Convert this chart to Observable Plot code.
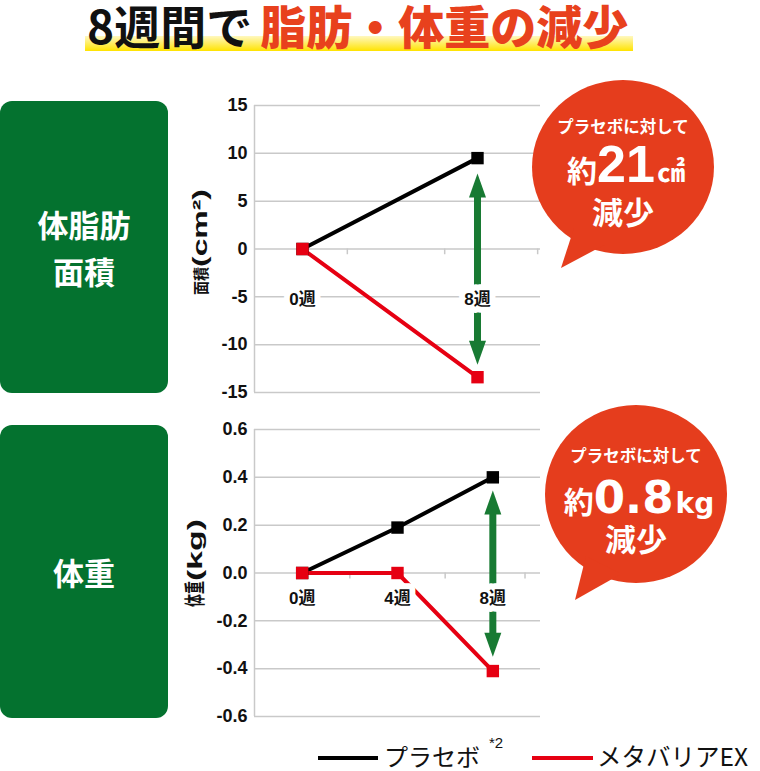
<!DOCTYPE html>
<html>
<head>
<meta charset="utf-8">
<script src="https://cdn.jsdelivr.net/npm/d3@7"></script>
<script src="https://cdn.jsdelivr.net/npm/@observablehq/plot@0.6"></script>
<style>
  html, body { margin: 0; padding: 0; background: #fff; }
  #wrap { position: relative; width: 760px; height: 771px; overflow: hidden; background: #fff; }
  .chart { position: absolute; }
  #overlay { position: absolute; left: 0; top: 0; }
</style>
</head>
<body>
<div id="wrap"></div>
<script>
// ---- data ----
const weeksTop = [0, 8];
const weekLabelsTop = ["0週", "8週"];
const placeboTop = [0, 9.5];
const exTop = [0, -13.4];
const yTicksTop = [15, 10, 5, 0, -5, -10, -15];
const arrowTop = [-12.1, 7.9];          // [EX end, placebo end]
const boundsTop = [2.05, 6.5, 10.75];

const weeksBottom = [0, 4, 8];
const weekLabelsBottom = ["0週", "4週", "8週"];
const placeboBottom = [0, 0.19, 0.40];
const exBottom = [0, 0, -0.41];
const yTicksBottom = [0.6, 0.4, 0.2, 0, -0.2, -0.4, -0.6];
const arrowBottom = [-0.35, 0.345];
const boundsBottom = [2, 6, 9.35];

const panelLabels = [["体脂肪", "面積"], ["体重"]];
const axisTitles = [["面積", "(cm²)"], ["体重", "(kg)"]];
const titleBlack = "8週間で";
const titleRed = "脂肪・体重の減少";
const bubbleLead = "プラセボに対して";
const bubblePrefix = "約";
const bubbleValues = ["21", "0.8"];
const bubbleUnits = ["㎠", "kg"];
const bubbleTail = "減少";
const seriesNames = ["プラセボ", "メタバリアEX"];
const seriesNote = "*2";

// ---- styles ----
const FONT = "'Liberation Sans', 'Noto Sans CJK JP', sans-serif";
const JP = "'Noto Sans CJK JP', sans-serif";
const RED = "#e60012";
const BLACK = "#000";
const GREEN = "#187a33";
const BOX = "#04722f";
const BUBBLE = "#e53d1d";
const GRID = "#c9c9c9";

const headUp = {draw(ctx) { ctx.moveTo(0, 0); ctx.lineTo(8.5, 24); ctx.lineTo(-8.5, 24); ctx.closePath(); }};

function chart({weeks, labels, placebo, ex, yTicks, fmt, arrow, bounds, xDomain, yDomain, labelY, yLabel, tickLen, labelDx, labelDy, labelFmt}) {
  const rows = weeks.map((w, i) => ({week: w, label: labels[i], placebo: placebo[i], ex: ex[i]}));
  const svgEl = Plot.plot({
    width: 380, height: 307,
    marginLeft: 84, marginRight: 10, marginTop: 10, marginBottom: 10,
    x: {domain: xDomain, axis: null},
    y: {domain: yDomain, axis: null},
    style: {fontFamily: FONT, background: "transparent", overflow: "visible"},
    marks: [
      Plot.ruleY(yTicks, {stroke: GRID, strokeWidth: 1.5}),
      Plot.ruleX([xDomain[0]], {stroke: GRID, strokeWidth: 1.5}),
      Plot.ruleX(bounds, {y1: 0, y2: tickLen, stroke: GRID, strokeWidth: 1.5}),
      Plot.axisY({ticks: yTicks, tickSize: 0, tickPadding: 7, tickFormat: fmt, fontSize: 18, fontWeight: "bold", fill: "#111", label: null}),
      Plot.text([yLabel.join("")], {frameAnchor: "left", textAnchor: "middle", rotate: -90, dx: labelDx, dy: labelDy, fontSize: 18, fontWeight: "bold", fill: "#111", className: "ylab"}),
      Plot.ruleX([arrow], {x: 8, y1: d => d[1], y2: d => d[0], stroke: GREEN, strokeWidth: 7, insetTop: 20, insetBottom: 20}),
      Plot.dot([arrow], {x: 8, y: d => d[1], symbol: headUp, fill: GREEN, stroke: "none"}),
      Plot.dot([arrow], {x: 8, y: d => d[0], symbol: headUp, rotate: 180, fill: GREEN, stroke: "none"}),
      Plot.line(rows, {x: "week", y: "placebo", stroke: BLACK, strokeWidth: 4}),
      Plot.line(rows, {x: "week", y: "ex", stroke: RED, strokeWidth: 4}),
      Plot.dot(rows, {x: "week", y: "placebo", symbol: "square", r: 7, fill: BLACK, stroke: "none"}),
      Plot.dot(rows, {x: "week", y: "ex", symbol: "square", r: 7, fill: RED, stroke: "none"}),
      Plot.text(rows, {x: "week", y: labelY, text: "label", fontSize: 17, fontWeight: "bold", fill: "#111", stroke: "white", strokeWidth: 12, strokeLinejoin: "round"})
    ]
  });
  // split the axis title into its Japanese and Latin parts (different sizes, as in the reference)
  const txt = d3.select(svgEl).select(".ylab text");
  if (!txt.empty()) {
    txt.text(null);
    txt.append("tspan").attr("font-family", JP).attr("font-size", labelFmt.jpSize)
      .attr("textLength", labelFmt.jpLen).attr("lengthAdjust", "spacingAndGlyphs").text(yLabel[0]);
    txt.append("tspan").attr("font-size", labelFmt.enSize)
      .attr("textLength", labelFmt.enLen).attr("lengthAdjust", "spacingAndGlyphs").text(yLabel[1]);
  }
  return svgEl;
}

const wrap = document.getElementById("wrap");

const chartTop = chart({
  weeks: weeksTop, labels: weekLabelsTop, placebo: placeboTop, ex: exTop,
  yTicks: yTicksTop, fmt: d => String(d), arrow: arrowTop, bounds: boundsTop,
  xDomain: [-2.194, 10.88], yDomain: [-15, 15], labelY: -5.3, yLabel: axisTitles[0], tickLen: -0.6,
  labelDx: -53, labelDy: -7, labelFmt: {jpSize: 16, jpLen: 28, enSize: 20, enLen: 78}
});
chartTop.classList.add("chart");
chartTop.style.left = "170px"; chartTop.style.top = "95px";
wrap.appendChild(chartTop);

const chartBottom = chart({
  weeks: weeksBottom, labels: weekLabelsBottom, placebo: placeboBottom, ex: exBottom,
  yTicks: yTicksBottom, fmt: d => d.toFixed(1), arrow: arrowBottom, bounds: boundsBottom,
  xDomain: [-2, 10], yDomain: [-0.6, 0.6], labelY: -0.105, yLabel: axisTitles[1], tickLen: -0.025,
  labelDx: -58, labelDy: -10, labelFmt: {jpSize: 21, jpLen: 26, enSize: 20, enLen: 62}
});
chartBottom.classList.add("chart");
chartBottom.style.left = "170px"; chartBottom.style.top = "419px";
wrap.appendChild(chartBottom);

// ---- overlay: title, panel boxes, bubbles, legend ----
const svg = d3.select(wrap).append("svg").attr("id", "overlay")
  .attr("width", 760).attr("height", 771).attr("viewBox", "0 0 760 771")
  .style("pointer-events", "none");

const defs = svg.append("defs");
const grad = defs.append("linearGradient").attr("id", "hl").attr("x1", 0).attr("y1", 0).attr("x2", 0).attr("y2", 1);
grad.append("stop").attr("offset", "0%").attr("stop-color", "#fff8c0");
grad.append("stop").attr("offset", "100%").attr("stop-color", "#ffe300");

// title
svg.append("rect").attr("x", 85).attr("y", 36).attr("width", 548).attr("height", 15).attr("fill", "url(#hl)");
const t = svg.append("text").attr("x", 87).attr("y", 44).attr("font-family", JP).attr("font-size", 46);
t.append("tspan").attr("fill", "#111").attr("font-weight", 700).text(titleBlack);
t.append("tspan").attr("fill", "#e8411d").attr("font-weight", 900).attr("dx", 8).text(titleRed);

// panel boxes
const boxes = [{y: 101, h: 292, lines: panelLabels[0], base: [237, 284]}, {y: 425, h: 293, lines: panelLabels[1], base: [585]}];
boxes.forEach(b => {
  svg.append("rect").attr("x", 0).attr("y", b.y).attr("width", 168).attr("height", b.h).attr("rx", 12).attr("fill", BOX);
  b.lines.forEach((s, i) => {
    svg.append("text").attr("x", 84).attr("y", b.base[i]).attr("text-anchor", "middle")
      .attr("font-family", JP).attr("font-weight", 700).attr("font-size", 31).attr("fill", "#fff").text(s);
  });
});

// bubbles
const bubbles = [
  {cx: 623, cy: 167, rx: 91, ry: 87, tail: [[574, 228], [561, 268], [606, 244]], lx: 623, l1: 133, l2: 182, l3: 224, cx2: 626, numFont: "'Liberation Sans', sans-serif", numSize: 52, unitFont: JP, unitSize: 28, unitWeight: 700},
  {cx: 636, cy: 494, rx: 91, ry: 89, tail: [[586, 556], [575, 600], [621, 574]], lx: 636, l1: 462, l2: 513, l3: 551, cx2: 639, numFont: "'DejaVu Sans', sans-serif", numSize: 45, unitFont: "'DejaVu Sans', sans-serif", unitSize: 28, unitWeight: 700}
];
bubbles.forEach((b, i) => {
  svg.append("ellipse").attr("cx", b.cx).attr("cy", b.cy).attr("rx", b.rx).attr("ry", b.ry).attr("fill", BUBBLE);
  svg.append("polygon").attr("points", b.tail.map(p => p.join(",")).join(" ")).attr("fill", BUBBLE);
  svg.append("text").attr("x", b.lx).attr("y", b.l1).attr("text-anchor", "middle")
    .attr("font-family", JP).attr("font-weight", 700).attr("font-size", 16.5).attr("fill", "#fff").text(bubbleLead);
  const l2 = svg.append("text").attr("x", b.cx2).attr("y", b.l2).attr("text-anchor", "middle").attr("fill", "#fff");
  l2.append("tspan").attr("font-family", JP).attr("font-weight", 700).attr("font-size", 30).text(bubblePrefix);
  l2.append("tspan").attr("font-family", b.numFont).attr("font-weight", 700).attr("font-size", b.numSize).text(bubbleValues[i]);
  l2.append("tspan").attr("font-family", b.unitFont).attr("font-weight", b.unitWeight).attr("font-size", b.unitSize).attr("dx", 2).text(bubbleUnits[i]);
  svg.append("text").attr("x", b.lx).attr("y", b.l3).attr("text-anchor", "middle")
    .attr("font-family", JP).attr("font-weight", 700).attr("font-size", 31).attr("fill", "#fff").text(bubbleTail);
});

// legend
svg.append("line").attr("x1", 318).attr("x2", 378).attr("y1", 758).attr("y2", 758).attr("stroke", BLACK).attr("stroke-width", 4);
svg.append("text").attr("x", 384).attr("y", 766).attr("font-family", JP).attr("font-size", 24).attr("fill", "#111").text(seriesNames[0]);
svg.append("text").attr("x", 489).attr("y", 748).attr("font-family", FONT).attr("font-size", 15).attr("fill", "#111").text(seriesNote);
svg.append("line").attr("x1", 532).attr("x2", 593).attr("y1", 758).attr("y2", 758).attr("stroke", RED).attr("stroke-width", 4);
svg.append("text").attr("x", 597).attr("y", 766).attr("font-family", JP).attr("font-size", 24.5).attr("fill", "#111").text(seriesNames[1]);
</script>
</body>
</html>
